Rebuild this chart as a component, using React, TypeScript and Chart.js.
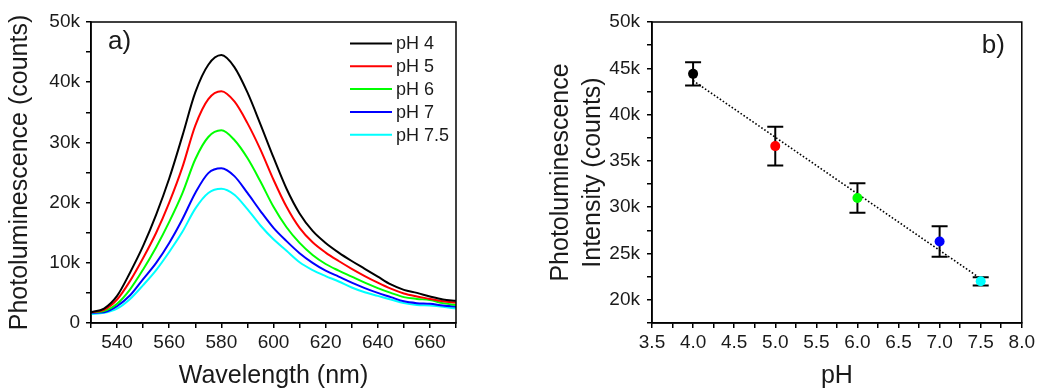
import React, { useEffect, useRef } from 'react';
import { Chart, registerables } from 'chart.js';

Chart.register(...registerables);

// ---------- Panel a) : spectra ----------
const wavelengths = [530, 535, 540, 545, 550, 555, 560, 565, 570, 575, 580, 585, 590, 595, 600, 605, 610, 615, 620, 625, 630, 635, 640, 645, 650, 655, 660, 665, 670];
const pH4 = [1800, 2400, 4500, 8400, 12800, 18000, 24000, 31000, 38300, 42900, 44500, 42500, 38300, 33000, 27500, 22300, 18200, 15300, 13300, 11700, 10300, 9000, 7700, 6400, 5500, 5000, 4400, 3900, 3700];
const pH5 = [1800, 2200, 3900, 7000, 10800, 15000, 20000, 25800, 32800, 37200, 38500, 36800, 33200, 28800, 23800, 19300, 15800, 13400, 11700, 10300, 9000, 7800, 6700, 5700, 4900, 4400, 4000, 3600, 3400];
const pH6 = [1800, 2000, 3200, 5600, 8900, 12600, 16800, 21500, 27200, 30900, 32000, 30400, 27400, 23500, 19300, 15900, 13300, 11300, 9800, 8700, 7700, 6700, 5800, 5000, 4300, 4000, 3800, 3300, 3000];
const pH7 = [1700, 1800, 2800, 4600, 7300, 10000, 13300, 17200, 21600, 24900, 25700, 24400, 21600, 18600, 15800, 13600, 11600, 10000, 8700, 7700, 6700, 5800, 5000, 4300, 3600, 3300, 3200, 2900, 2700];
const pH75 = [1500, 1700, 2400, 4000, 6300, 8800, 11800, 15100, 19000, 21600, 22300, 21300, 18900, 16200, 13900, 12000, 10100, 8800, 7800, 6900, 5900, 5100, 4500, 3900, 3300, 3000, 2900, 2700, 2400];
const spectraSeries = [pH4, pH5, pH6, pH7, pH75];
const seriesLabels = ['pH 4', 'pH 5', 'pH 6', 'pH 7', 'pH 7.5'];
const seriesColors = ['#000000', '#FF0000', '#00FF00', '#0000FF', '#00FFFF'];

// ---------- Panel b) : peak intensity vs pH ----------
const phValues = [4.0, 5.0, 6.0, 7.0, 7.5];
const peakIntensity = [44400, 36600, 31000, 26300, 22000];
const peakError = [1250, 2100, 1600, 1650, 450];
const pointColors = ['#000000', '#FF0000', '#00FF00', '#0000FF', '#00FFFF'];
const fitX = [4.0, 7.5];
const fitY = [43670, 22290];

const FONT = '"Liberation Sans", Arial, Helvetica, sans-serif';
const TEXT = '#1a1a1a';

const kLabel = (v: number) => (v === 0 ? '0' : `${Math.round(v / 1000)}k`);

const framePlugin = {
  id: 'frame',
  afterDatasetsDraw(chart: any) {
    const { ctx, chartArea: a } = chart;
    ctx.save();
    ctx.strokeStyle = '#000';
    ctx.lineWidth = 1.5;
    ctx.strokeRect(a.left, a.top, a.right - a.left, a.bottom - a.top);
    ctx.restore();
  },
};

function panelLabel(text: string, dx: number, dy: number, fromRight: boolean) {
  return {
    id: 'panelLabel' + text,
    afterDraw(chart: any) {
      const { ctx, chartArea: a } = chart;
      ctx.save();
      ctx.fillStyle = TEXT;
      ctx.font = `26px ${FONT}`;
      ctx.textBaseline = 'alphabetic';
      ctx.textAlign = fromRight ? 'right' : 'left';
      ctx.fillText(text, fromRight ? a.right - dx : a.left + dx, a.top + dy);
      ctx.restore();
    },
  };
}

const spectraLegend = {
  id: 'spectraLegend',
  afterDraw(chart: any) {
    const { ctx, chartArea: a } = chart;
    ctx.save();
    ctx.font = `18px ${FONT}`;
    ctx.textBaseline = 'middle';
    ctx.textAlign = 'left';
    chart.data.datasets.forEach((ds: any, i: number) => {
      const y = a.top + 21.5 + i * 22.8;
      const x0 = a.right - 106;
      ctx.strokeStyle = ds.borderColor;
      ctx.lineWidth = 2;
      ctx.beginPath();
      ctx.moveTo(x0, y);
      ctx.lineTo(x0 + 42, y);
      ctx.stroke();
      ctx.fillStyle = TEXT;
      ctx.fillText(ds.label, x0 + 46, y + 1);
    });
    ctx.restore();
  },
};

const errorBars = {
  id: 'errorBars',
  beforeDatasetsDraw(chart: any) {
    const { ctx } = chart;
    const xs = chart.scales.x;
    const ys = chart.scales.y;
    ctx.save();
    ctx.strokeStyle = '#000';
    ctx.lineWidth = 2;
    phValues.forEach((p, i) => {
      const x = xs.getPixelForValue(p);
      const yt = ys.getPixelForValue(peakIntensity[i] + peakError[i]);
      const yb = ys.getPixelForValue(peakIntensity[i] - peakError[i]);
      ctx.beginPath();
      ctx.moveTo(x, yt);
      ctx.lineTo(x, yb);
      ctx.moveTo(x - 8, yt);
      ctx.lineTo(x + 8, yt);
      ctx.moveTo(x - 8, yb);
      ctx.lineTo(x + 8, yb);
      ctx.stroke();
    });
    ctx.restore();
  },
};

const axisGrid = {
  display: true,
  drawOnChartArea: false,
  drawTicks: true,
  tickLength: 5,
  color: '#000',
  lineWidth: 1.5,
};
const axisBorder = { display: true, color: '#000', width: 1.5 };

function SpectraChart() {
  const ref = useRef<HTMLCanvasElement>(null);
  useEffect(() => {
    const chart = new Chart(ref.current as HTMLCanvasElement, {
      type: 'line',
      data: {
        datasets: spectraSeries.map((vals, i) => ({
          label: seriesLabels[i],
          data: wavelengths.map((w, j) => ({ x: w, y: vals[j] })),
          borderColor: seriesColors[i],
          backgroundColor: seriesColors[i],
          borderWidth: 2,
          pointRadius: 0,
          cubicInterpolationMode: 'monotone' as const,
          fill: false,
        })),
      },
      options: {
        responsive: false,
        animation: false,
        layout: { padding: { top: 22, right: 74, left: 0, bottom: 0 } },
        plugins: { legend: { display: false }, tooltip: { enabled: false } },
        scales: {
          x: {
            type: 'linear',
            min: 530,
            max: 670,
            afterFit: (s: any) => { s.height = 68; },
            grid: axisGrid,
            border: axisBorder,
            ticks: {
              stepSize: 10,
              autoSkip: false,
              maxRotation: 0,
              padding: 3,
              color: TEXT,
              font: { family: FONT, size: 19 },
              callback: (v: any) => (Number(v) % 20 === 0 ? String(v) : ''),
            },
            title: {
              display: true,
              text: 'Wavelength (nm)',
              color: TEXT,
              font: { family: FONT, size: 25 },
              padding: { top: 0, bottom: 0 },
            },
          },
          y: {
            type: 'linear',
            min: 0,
            max: 50000,
            afterFit: (s: any) => { s.width = 91; },
            grid: axisGrid,
            border: axisBorder,
            ticks: {
              stepSize: 5000,
              autoSkip: false,
              padding: 6,
              color: TEXT,
              font: { family: FONT, size: 19 },
              callback: (v: any) => (Number(v) % 10000 === 0 ? kLabel(Number(v)) : ''),
            },
            title: {
              display: true,
              text: 'Photoluminescence (counts)',
              color: TEXT,
              font: { family: FONT, size: 25 },
              padding: { top: 5, bottom: 0 },
            },
          },
        },
      } as any,
      plugins: [framePlugin, spectraLegend, panelLabel('a)', 17, 27, false)],
    });
    return () => chart.destroy();
  }, []);
  return <canvas ref={ref} width={530} height={391} style={{ position: 'absolute', left: 0, top: 0 }} />;
}

function PhChart() {
  const ref = useRef<HTMLCanvasElement>(null);
  useEffect(() => {
    const chart = new Chart(ref.current as HTMLCanvasElement, {
      type: 'scatter',
      data: {
        datasets: [
          {
            type: 'scatter',
            label: 'Peak intensity',
            data: phValues.map((p, i) => ({ x: p, y: peakIntensity[i] })),
            backgroundColor: pointColors,
            borderColor: pointColors,
            borderWidth: 0,
            pointRadius: 5,
            order: 0,
          },
          {
            type: 'line',
            label: 'Linear fit',
            data: fitX.map((x, i) => ({ x, y: fitY[i] })),
            borderColor: '#000',
            borderWidth: 1.6,
            borderDash: [1.6, 2],
            pointRadius: 0,
            fill: false,
            order: 1,
          },
        ],
      },
      options: {
        responsive: false,
        animation: false,
        layout: { padding: { top: 22, right: 15, left: 0, bottom: 0 } },
        plugins: { legend: { display: false }, tooltip: { enabled: false } },
        scales: {
          x: {
            type: 'linear',
            min: 3.5,
            max: 8.0,
            afterFit: (s: any) => { s.height = 68; },
            grid: axisGrid,
            border: axisBorder,
            ticks: {
              stepSize: 0.25,
              autoSkip: false,
              maxRotation: 0,
              padding: 3,
              color: TEXT,
              font: { family: FONT, size: 19 },
              callback: (v: any) => {
                const n = Number(v);
                return Math.abs(n * 2 - Math.round(n * 2)) < 1e-6 ? n.toFixed(1) : '';
              },
            },
            title: {
              display: true,
              text: 'pH',
              color: TEXT,
              font: { family: FONT, size: 25 },
              padding: { top: 0, bottom: 0 },
            },
          },
          y: {
            type: 'linear',
            min: 17500,
            max: 50000,
            afterFit: (s: any) => { s.width = 112; },
            grid: axisGrid,
            border: axisBorder,
            ticks: {
              stepSize: 2500,
              autoSkip: false,
              padding: 7,
              color: TEXT,
              font: { family: FONT, size: 19 },
              callback: (v: any) => (Number(v) % 5000 === 0 ? kLabel(Number(v)) : ''),
            },
            title: {
              display: true,
              text: ['Photoluminescence', 'Intensity (counts)'],
              color: TEXT,
              font: { family: FONT, size: 25, lineHeight: 1.27 },
              padding: { top: 5, bottom: 0 },
            },
          },
        },
      } as any,
      plugins: [framePlugin, errorBars, panelLabel('b)', 17, 31, true)],
    });
    return () => chart.destroy();
  }, []);
  return <canvas ref={ref} width={498} height={391} style={{ position: 'absolute', left: 540, top: 0 }} />;
}

export default function App() {
  return (
    <div style={{ position: 'absolute', left: 0, top: 0, width: 1038, height: 391, background: '#fff', overflow: 'hidden' }}>
      <SpectraChart />
      <PhChart />
    </div>
  );
}
